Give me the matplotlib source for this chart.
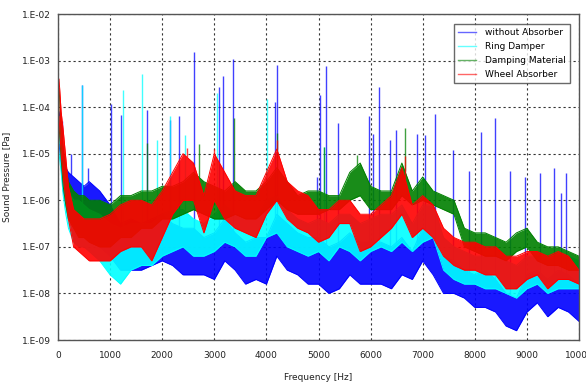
import numpy as np
import matplotlib
matplotlib.use("Agg")
import matplotlib.pyplot as plt

# frequency grid [Hz]
freq = [20, 60, 100, 150, 200, 300, 400, 500, 600, 800, 1000, 1200, 1400, 1600, 1800,
        2000, 2200, 2400, 2600, 2800, 3000, 3200, 3400, 3600, 3800, 4000, 4200, 4400,
        4600, 4800, 5000, 5200, 5400, 5600, 5800, 6000, 6200, 6400, 6600, 6800, 7000,
        7200, 7400, 7600, 7800, 8000, 8200, 8400, 8600, 8800, 9000, 9200, 9400, 9600,
        9800, 10000]

# band envelopes, log10 of sound pressure [Pa]
blue_hi = [-4.1, -4.4, -5.0, -5.3, -5.4, -5.5, -5.6, -5.7, -5.6, -5.8, -6.1, -6.5, -6.4, -6.5, -6.4,
           -6.3, -6.5, -6.6, -6.6, -6.8, -6.7, -6.4, -6.7, -6.9, -6.8, -6.8, -6.3, -6.5,
           -6.7, -6.8, -6.8, -7.0, -6.9, -6.7, -6.9, -6.9, -6.9, -7.0, -6.8, -7.1, -6.6,
           -6.8, -7.2, -7.3, -7.5, -7.6, -7.5, -7.7, -8.0, -8.1, -7.6, -7.5, -7.7, -7.5,
           -7.6, -7.8]
blue_lo = [-4.8, -5.2, -5.8, -6.1, -6.4, -6.6, -6.7, -6.8, -6.9, -7.0, -7.2, -7.5, -7.5, -7.5, -7.4,
           -7.3, -7.4, -7.6, -7.6, -7.6, -7.7, -7.3, -7.5, -7.8, -7.7, -7.8, -7.2, -7.5,
           -7.6, -7.8, -7.8, -8.0, -7.9, -7.6, -7.8, -7.8, -7.8, -7.9, -7.6, -7.7, -7.3,
           -7.6, -8.0, -8.0, -8.1, -8.3, -8.3, -8.4, -8.7, -8.8, -8.4, -8.2, -8.5, -8.3,
           -8.4, -8.6]

cyan_hi = [-4.2, -4.6, -5.1, -5.5, -5.8, -6.0, -6.0, -6.1, -6.2, -6.3, -6.5, -6.6, -6.5, -6.5, -6.5,
           -6.3, -6.2, -6.2, -6.4, -6.5, -6.3, -6.1, -6.3, -6.4, -6.4, -6.0, -5.9, -6.2,
           -6.4, -6.5, -6.4, -6.5, -6.3, -6.3, -6.5, -6.4, -6.3, -6.3, -6.1, -6.5, -6.1,
           -6.1, -6.8, -7.0, -7.1, -7.2, -7.2, -7.2, -7.3, -7.4, -7.2, -7.2, -7.3, -7.2,
           -7.2, -7.3]
cyan_lo = [-5.0, -5.4, -5.9, -6.3, -6.6, -6.9, -7.0, -7.0, -7.1, -7.3, -7.6, -7.8, -7.5, -7.4, -7.4,
           -7.2, -7.1, -7.0, -7.2, -7.2, -7.1, -6.9, -7.0, -7.2, -7.2, -6.8, -6.7, -7.0,
           -7.1, -7.2, -7.1, -7.3, -7.0, -7.1, -7.3, -7.1, -7.0, -7.1, -6.9, -7.1, -6.9,
           -6.8, -7.5, -7.7, -7.8, -7.8, -7.9, -7.9, -8.0, -8.1, -7.9, -7.8, -8.0, -7.9,
           -7.9, -7.9]

green_hi = [-3.6, -4.3, -4.9, -5.3, -5.6, -5.8, -5.9, -5.9, -6.0, -6.0, -6.1, -5.9, -5.9, -5.8, -5.8,
            -5.7, -5.7, -5.6, -5.4, -5.6, -5.7, -5.8, -5.6, -5.8, -5.8, -5.6, -5.3, -5.6,
            -5.9, -5.8, -5.8, -5.9, -5.9, -5.4, -5.2, -5.7, -5.8, -5.8, -5.2, -5.8, -5.5,
            -5.8, -5.9, -6.0, -6.6, -6.7, -6.7, -6.8, -6.9, -6.7, -6.6, -6.9, -7.0, -7.0,
            -7.1, -7.2]
green_lo = [-4.4, -5.1, -5.7, -6.1, -6.4, -6.6, -6.8, -6.8, -6.9, -7.0, -7.0, -6.8, -6.8, -6.6, -6.6,
            -6.4, -6.4, -6.3, -6.2, -6.3, -6.4, -6.4, -6.3, -6.4, -6.4, -6.2, -6.0, -6.2,
            -6.3, -6.3, -6.3, -6.2, -6.2, -6.0, -5.9, -6.2, -6.2, -6.2, -5.9, -6.1, -6.0,
            -6.1, -6.2, -6.3, -7.0, -7.1, -7.2, -7.2, -7.3, -7.1, -7.0, -7.3, -7.4, -7.4,
            -7.5, -7.5]

red_hi = [-3.4, -4.1, -4.5, -5.1, -5.7, -6.2, -6.3, -6.4, -6.4, -6.4, -6.3, -6.1, -6.0, -6.0, -6.1,
          -5.8, -5.4, -5.0, -5.2, -5.9, -5.0, -5.4, -5.8, -5.9, -5.9, -5.4, -4.9, -5.6,
          -5.8, -5.9, -6.2, -6.2, -6.0, -6.0, -6.3, -6.3, -6.1, -5.9, -5.3, -6.1, -5.9,
          -6.1, -6.6, -6.8, -6.9, -6.9, -7.0, -7.0, -7.2, -7.2, -7.1, -7.1, -7.2, -7.1,
          -7.2, -7.5]
red_lo = [-4.2, -5.0, -5.5, -6.0, -6.4, -7.0, -7.1, -7.2, -7.3, -7.3, -7.3, -7.1, -7.0, -7.0, -7.3,
          -6.8, -6.3, -6.0, -6.0, -6.7, -6.0, -6.4, -6.6, -6.7, -6.8, -6.3, -6.0, -6.4,
          -6.6, -6.7, -6.9, -6.8, -6.5, -6.5, -7.1, -7.0, -6.8, -6.6, -6.3, -6.8, -6.6,
          -6.8, -7.2, -7.4, -7.5, -7.5, -7.6, -7.6, -7.9, -7.9, -7.7, -7.6, -7.9, -7.7,
          -7.7, -7.8]

# narrow tonal peaks: frequency [Hz] and log10 of peak pressure [Pa]
blue_pk_f = [77, 250, 467, 580, 1017, 1203, 1702, 2150, 2322, 2610, 3090, 3173, 3360, 4165,
             4197, 4970, 5029, 5144, 5368, 5963, 6040, 6168, 6372, 6481, 6884, 7045, 7236,
             7575, 7890, 8119, 8381, 8676, 8957, 9245, 9520, 9655, 9750]
blue_pk_v = [-4.3, -5.0, -3.52, -5.3, -3.93, -4.17, -4.06, -4.27, -4.19, -2.81, -3.57, -3.33, -2.97, -3.9,
             -3.09, -5.5, -3.74, -3.12, -4.35, -4.2, -4.58, -3.57, -4.7, -4.5, -4.58, -4.6, -4.15,
             -4.91, -5.38, -4.53, -4.24, -5.38, -5.49, -5.41, -5.3, -5.84, -5.41]
cyan_pk_f = [467, 1254, 1619, 1906, 2150, 2444, 3060, 4015, 5100, 7000]
cyan_pk_v = [-3.52, -3.63, -3.29, -4.7, -4.2, -4.6, -3.7, -3.83, -4.85, -5.5]
green_pk_f = [1705, 2710, 3380, 4200, 5100, 5733, 6654]
green_pk_v = [-4.77, -4.8, -4.24, -4.56, -4.85, -5.03, -4.45]
red_pk_f = [2470, 3000, 4200, 6654]
red_pk_v = [-4.88, -4.9, -4.7, -5.05]

series = [
    ("without Absorber", "#0000ff", blue_hi, blue_lo, blue_pk_f, blue_pk_v),
    ("Ring Damper", "#00ffff", cyan_hi, cyan_lo, cyan_pk_f, cyan_pk_v),
    ("Damping Material", "#008000", green_hi, green_lo, green_pk_f, green_pk_v),
    ("Wheel Absorber", "#ff0000", red_hi, red_lo, red_pk_f, red_pk_v),
]

plt.rcParams['font.family'] = ['DejaVu Sans']
fig = plt.figure(figsize=(5.86, 3.85), dpi=100)
ax = fig.add_axes([58/586, 1-340/385, (579-58)/586, (340-14)/385])

f = np.array(freq, dtype=float)
for i, (name, col, hi, lo, pf, pv) in enumerate(series):
    hi_p = 10.0 ** np.array(hi)
    lo_p = 10.0 ** np.array(lo)
    z = 2 + i
    ax.fill_between(f, lo_p, hi_p, color=col, alpha=0.9, lw=0, zorder=z)
    ax.plot(f, hi_p, color=col, lw=0.7, zorder=z)
    ax.plot(f, lo_p, color=col, lw=0.7, zorder=z)
    base = 10.0 ** np.interp(pf, f, hi)
    ax.vlines(pf, base, 10.0 ** np.array(pv), color=col, lw=1.0, alpha=0.75, zorder=z)
    ax.plot([], [], color=col, lw=1.0, alpha=0.6, label=name)

ax.set_yscale('log')
ax.set_xlim(0, 10000)
ax.set_ylim(1e-9, 1e-2)
ax.set_xticks(range(0, 10001, 1000))
ax.set_xticklabels([str(v) for v in range(0, 10001, 1000)])
yt = [1e-9, 1e-8, 1e-7, 1e-6, 1e-5, 1e-4, 1e-3, 1e-2]
ax.set_yticks(yt)
ax.set_yticklabels(["1.E-09", "1.E-08", "1.E-07", "1.E-06", "1.E-05", "1.E-04", "1.E-03", "1.E-02"])
ax.minorticks_off()
ax.tick_params(axis='both', length=0, labelsize=6.5, colors='#222222')
ax.tick_params(axis='x', pad=8)
ax.tick_params(axis='y', pad=5)
ax.grid(True, which='major', color='#333333', ls=(0, (2, 2.5)), lw=0.8, zorder=1)
for s in ax.spines.values():
    s.set_color('#555555')
    s.set_linewidth(1.0)
    s.set_zorder(10)

ax.set_xlabel("Frequency [Hz]", fontsize=6.5, color='#222222', labelpad=9)
ax.set_ylabel("Sound Pressure [Pa]", fontsize=6.5, color='#222222', labelpad=8)

leg = ax.legend(loc='upper right', bbox_to_anchor=((570-58)/521, (340-24)/326), fontsize=6.5,
                frameon=True, fancybox=False, handlelength=2.0, handletextpad=1.0,
                borderpad=0.45, labelspacing=0.55, borderaxespad=0)
leg.get_frame().set_edgecolor('#444444')
leg.get_frame().set_linewidth(1.0)
leg.set_zorder(20)

fig.savefig("out.png", dpi=100)
